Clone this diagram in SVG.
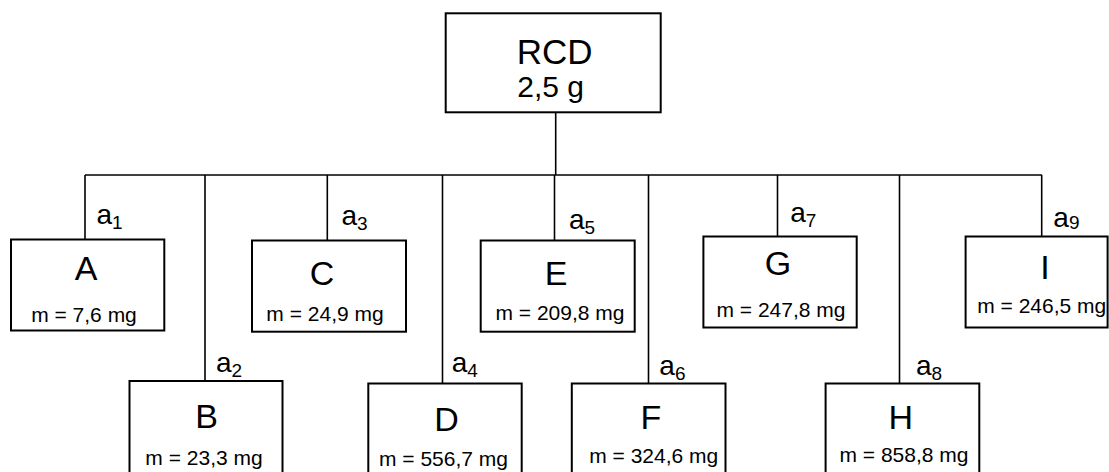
<svg xmlns="http://www.w3.org/2000/svg" width="1109" height="472" viewBox="0 0 1109 472">
<style>
.box{fill:#fff;stroke:#000;stroke-width:2}
.ln{stroke:#000;stroke-width:1.6;fill:none}
text{font-family:"Liberation Sans",Arial,sans-serif;fill:#000}
.big{font-size:34px;text-anchor:middle}
.m{font-size:21px;text-anchor:middle}
.a{font-size:28px}
.sub{font-size:19px}
</style>
<rect width="1109" height="472" fill="#fff"/>
<g id="connectors">
<line class="ln" x1="555.7" y1="112.3" x2="555.7" y2="175"/>
<line class="ln" x1="85" y1="175" x2="1042" y2="175"/>
<line class="ln" x1="85" y1="175" x2="85" y2="239.5"/>
<line class="ln" x1="205" y1="175" x2="205" y2="381"/>
<line class="ln" x1="327.3" y1="175" x2="327.3" y2="240.5"/>
<line class="ln" x1="442.5" y1="175" x2="442.5" y2="383.5"/>
<line class="ln" x1="554.5" y1="175" x2="554.5" y2="240.5"/>
<line class="ln" x1="648.5" y1="175" x2="648.5" y2="383.5"/>
<line class="ln" x1="777.5" y1="175" x2="777.5" y2="236.5"/>
<line class="ln" x1="899.5" y1="175" x2="899.5" y2="383.5"/>
<line class="ln" x1="1041.7" y1="175" x2="1041.7" y2="236.5"/>
<text class="a" x="96.5" y="223.5">a<tspan class="sub" dy="5">1</tspan></text>
<text class="a" x="216" y="371.7">a<tspan class="sub" dy="5">2</tspan></text>
<text class="a" x="341.5" y="225">a<tspan class="sub" dy="5">3</tspan></text>
<text class="a" x="451.7" y="371.7">a<tspan class="sub" dy="5">4</tspan></text>
<text class="a" x="569" y="229">a<tspan class="sub" dy="5">5</tspan></text>
<text class="a" x="659.3" y="375">a<tspan class="sub" dy="5">6</tspan></text>
<text class="a" x="790.2" y="221.7">a<tspan class="sub" dy="5">7</tspan></text>
<text class="a" x="916" y="375">a<tspan class="sub" dy="5">8</tspan></text>
<text class="a" x="1053.3" y="226.5">a<tspan class="sub" dy="2">9</tspan></text>
</g>
<g id="RCD">
<rect class="box" x="445.7" y="13.3" width="215" height="99"/>
<text x="516.7" y="64.3" style="font-size:35px">RCD</text>
<text x="517.3" y="96.7" style="font-size:30px">2,5 g</text>
</g>
<g id="A">
<rect class="box" x="11" y="239.5" width="153.3" height="91"/>
<text class="big" x="86" y="280">A</text>
<text class="m" x="84" y="322">m = 7,6 mg</text>
</g>
<g id="B">
<rect class="box" x="129.5" y="381" width="153" height="95"/>
<text class="big" x="206.5" y="428">B</text>
<text class="m" x="204" y="465">m = 23,3 mg</text>
</g>
<g id="C">
<rect class="box" x="252" y="240.5" width="154" height="91.2"/>
<text class="big" x="322" y="285">C</text>
<text class="m" x="325" y="321">m = 24,9 mg</text>
</g>
<g id="D">
<rect class="box" x="368.3" y="383.5" width="153.4" height="95"/>
<text class="big" x="446.5" y="430.7">D</text>
<text class="m" x="443.5" y="465.5">m = 556,7 mg</text>
</g>
<g id="E">
<rect class="box" x="480.7" y="240.5" width="154" height="91.2"/>
<text class="big" x="556" y="285">E</text>
<text class="m" x="560" y="319.5">m = 209,8 mg</text>
</g>
<g id="F">
<rect class="box" x="571.8" y="383.5" width="153.7" height="95"/>
<text class="big" x="651" y="429">F</text>
<text class="m" x="653.7" y="462.5">m = 324,6 mg</text>
</g>
<g id="G">
<rect class="box" x="703.4" y="236.5" width="153.3" height="91"/>
<text class="big" x="778" y="275">G</text>
<text class="m" x="781" y="317">m = 247,8 mg</text>
</g>
<g id="H">
<rect class="box" x="825.6" y="383.5" width="153.7" height="95"/>
<text class="big" x="900.7" y="429">H</text>
<text class="m" x="904" y="462">m = 858,8 mg</text>
</g>
<g id="I">
<rect class="box" x="965.6" y="236.5" width="142" height="91"/>
<text class="big" x="1045" y="279.3">I</text>
<text class="m" x="1041.7" y="313">m = 246,5 mg</text>
</g>
</svg>
